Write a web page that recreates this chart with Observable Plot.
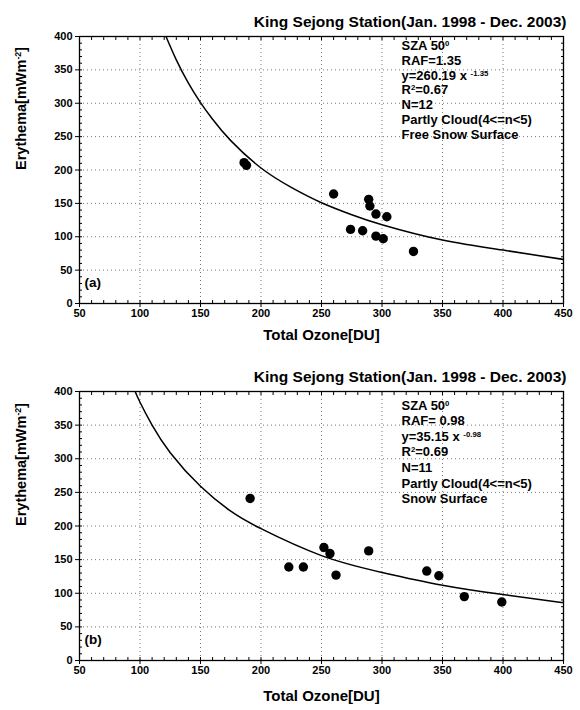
<!DOCTYPE html>
<html><head><meta charset="utf-8">
<script src="https://cdn.jsdelivr.net/npm/d3@7"></script>
<script src="https://cdn.jsdelivr.net/npm/@observablehq/plot@0.6"></script>
<style>
body{margin:0;background:#fff;font-family:"Liberation Sans",Arial,sans-serif;}
#charts svg{display:block;}
</style></head><body><div id="charts"></div>
<script>
const title = "King Sejong Station(Jan. 1998 - Dec. 2003)";
const xLabel = "Total Ozone[DU]";
const yLabel = "Erythema[mWm^{-2}]";
const xTicks = [50, 100, 150, 200, 250, 300, 350, 400, 450];
const yTicks = [0, 50, 100, 150, 200, 250, 300, 350, 400];

// Panel (a)
const ozoneA    = [186, 188, 260, 274, 284, 289, 290, 295, 304, 295, 301, 326];
const erythemaA = [211, 207, 164, 111, 109, 156, 146, 134, 130, 101, 97, 78];
const fitXA = [121.5, 130, 140, 150, 160, 175, 200, 225, 250, 275, 300, 350, 400, 450];
const fitYA = [400, 365, 330, 301, 276, 244, 203, 174, 151, 133, 118, 95, 80, 66];
const notesA = ["SZA 50^{0}", "RAF=1.35", "y=260.19 x ^{-1.35}", "R^{2}=0.67", "N=12", "Partly Cloud(4<=n<5)", "Free Snow Surface"];

// Panel (b)
const ozoneB    = [191, 223, 235, 252, 257, 262, 289, 337, 347, 368, 399];
const erythemaB = [241, 139, 139, 168, 159, 127, 163, 133, 126, 95, 87];
const fitXB = [96, 100, 110, 125, 150, 175, 200, 250, 300, 350, 400, 450];
const fitYB = [400, 384, 350, 309, 259, 222, 196, 156, 131, 112, 98, 86];
const notesB = ["SZA 50^{0}", "RAF= 0.98", "y=35.15 x ^{-0.98}", "R^{2}=0.69", "N=11", "Partly Cloud(4<=n<5)", "Snow Surface"];

const minorX = d3.range(50, 451, 10);
const minorY = d3.range(0, 401, 10);

function superscripts(svg) {
  svg.querySelectorAll("text, tspan").forEach(el => {
    if (el.childNodes.length !== 1 || el.firstChild.nodeType !== 3) return;
    const s = el.textContent;
    if (!s.includes("^{")) return;
    el.textContent = "";
    const re = /\^\{([^}]*)\}/g; let last = 0, m;
    while ((m = re.exec(s))) {
      if (m.index > last) el.appendChild(document.createTextNode(s.slice(last, m.index)));
      const t = document.createElementNS("http://www.w3.org/2000/svg", "tspan");
      t.setAttribute("baseline-shift", "super");
      t.setAttribute("font-size", "0.6em");
      t.textContent = m[1];
      el.appendChild(t);
      last = re.lastIndex;
    }
    if (last < s.length) el.appendChild(document.createTextNode(s.slice(last)));
  });
}

function panel({ozone, erythema, fitX, fitY, notes, tag, marginBottom, lineHeight, notesDy, xLabelDy}) {
  const pts = ozone.map((x, i) => ({x, y: erythema[i]}));
  const fit = fitX.map((x, i) => ({x, y: fitY[i]}));
  const bold = {fontWeight: "bold", fill: "black"};
  const svg = Plot.plot({
    width: 580, height: 355,
    marginLeft: 79, marginRight: 17, marginTop: 36, marginBottom,
    style: {fontFamily: "'Liberation Sans', Arial, sans-serif", background: "white", color: "black", overflow: "visible"},
    x: {domain: [50, 450]},
    y: {domain: [0, 400]},
    marks: [
      Plot.gridX(xTicks.slice(1, -1), {stroke: "#777", strokeOpacity: 1, strokeDasharray: "1,3"}),
      Plot.gridY(yTicks.slice(1, -1), {stroke: "#777", strokeOpacity: 1, strokeDasharray: "1,3"}),
      Plot.line(fit, {x: "x", y: "y", curve: "natural", stroke: "black", strokeWidth: 1.5, clip: true}),
      Plot.dot(pts, {x: "x", y: "y", r: 4.7, fill: "black", stroke: "none"}),
      Plot.frame({stroke: "black", strokeWidth: 1.3}),
      Plot.axisX(xTicks, {tickSize: 4, tickPadding: 2, fontSize: 11, fontWeight: "bold", label: null, stroke: "black"}),
      Plot.axisX(minorX, {tickSize: -3, tickFormat: () => "", label: null, stroke: "black"}),
      Plot.axisX(minorX, {anchor: "top", tickSize: -3, tickFormat: () => "", label: null, stroke: "black"}),
      Plot.axisY(yTicks, {tickSize: 4, tickPadding: 3, fontSize: 11, fontWeight: "bold", label: null, stroke: "black"}),
      Plot.axisY(minorY, {tickSize: -3, tickFormat: () => "", label: null, stroke: "black"}),
      Plot.axisY(minorY, {anchor: "right", tickSize: -3, tickFormat: () => "", label: null, stroke: "black"}),
      Plot.text([title], {text: d => d, frameAnchor: "top-right", dx: 3, dy: -21, textAnchor: "end", fontSize: 15.5, ...bold}),
      Plot.text([xLabel], {text: d => d, frameAnchor: "bottom", dy: xLabelDy, fontSize: 15, ...bold}),
      Plot.text([yLabel], {text: d => d, frameAnchor: "left", dx: -58, rotate: -90, fontSize: 14.5, ...bold}),
      Plot.text([notes.join("\n")], {text: d => d, frameAnchor: "top-left", dx: 322, dy: notesDy, lineAnchor: "top", textAnchor: "start", lineHeight, fontSize: 13, ...bold}),
      Plot.text([tag], {text: d => d, frameAnchor: "bottom-left", dx: 5, dy: -17, textAnchor: "start", fontSize: 13.5, ...bold})
    ]
  });
  superscripts(svg);
  return svg;
}

const root = document.getElementById("charts");
root.appendChild(panel({ozone: ozoneA, erythema: erythemaA, fitX: fitXA, fitY: fitYA, notes: notesA, tag: "(a)", marginBottom: 52, lineHeight: 1.14, notesDy: 3, xLabelDy: 36}));
root.appendChild(panel({ozone: ozoneB, erythema: erythemaB, fitX: fitXB, fitY: fitYB, notes: notesB, tag: "(b)", marginBottom: 50, lineHeight: 1.2, notesDy: 7, xLabelDy: 40}));
</script></body></html>
